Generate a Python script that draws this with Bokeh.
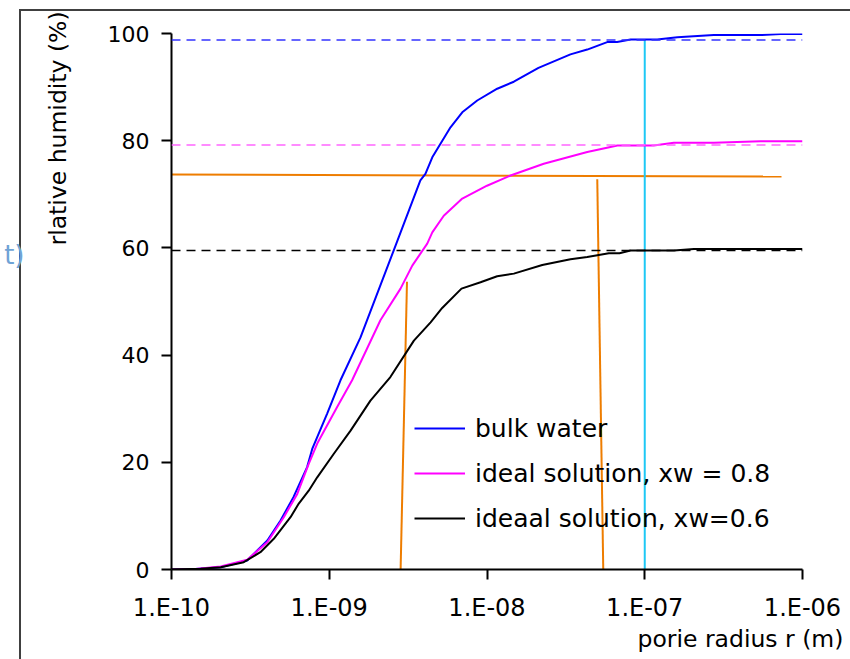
from bokeh.plotting import figure
from bokeh.models import Range1d, FixedTicker, Span, Legend, LegendItem, Title, LinearAxis
from bokeh.embed import file_html
from bokeh.resources import INLINE

# ---- data ----
bulk_r = [1.0e-10, 1.42e-10, 2.05e-10, 3.02e-10, 4.05e-10, 4.91e-10, 5.93e-10, 7.24e-10, 7.80e-10,
          9.70e-10, 1.178e-9, 1.578e-9, 2.56e-9, 3.78e-9, 4.07e-9, 4.50e-9, 5.87e-9, 6.97e-9, 8.67e-9,
          1.161e-8, 1.479e-8, 2.12e-8, 3.38e-8, 4.32e-8, 5.78e-8, 6.68e-8, 8.13e-8, 1.20e-7, 1.61e-7,
          2.74e-7, 5.42e-7, 7.26e-7, 1.0e-6]
bulk_rh = [0, 0.1, 0.43, 1.68, 5.41, 9.14, 13.5, 19.1, 22.5,
           29.1, 35.3, 43.3, 59.5, 72.6, 73.8, 76.9, 82.5, 85.3, 87.5,
           89.7, 91.0, 93.6, 96.1, 97.0, 98.4, 98.4, 98.9, 98.9, 99.3,
           99.7, 99.7, 99.9, 99.9]

ideal08_r = [1.0e-10, 1.42e-10, 2.05e-10, 3.02e-10, 4.05e-10, 5.15e-10, 6.27e-10, 7.41e-10, 8.39e-10,
             1.122e-9, 1.396e-9, 2.11e-9, 2.83e-9, 3.36e-9, 4.18e-9, 4.50e-9, 5.32e-9, 6.97e-9,
             1.00e-8, 1.41e-8, 2.29e-8, 4.32e-8, 6.71e-8, 1.14e-7, 1.53e-7, 2.74e-7, 5.42e-7, 1.0e-6]
ideal08_rh = [0, 0.1, 0.56, 1.81, 5.09, 9.76, 14.1, 19.7, 23.5,
              30.3, 35.3, 46.5, 52.4, 56.7, 60.8, 62.9, 66.0, 69.2,
              71.6, 73.5, 75.7, 77.9, 79.1, 79.1, 79.6, 79.6, 79.9, 79.9]

ideal06_r = [1.0e-10, 1.53e-10, 2.05e-10, 2.87e-10, 3.66e-10, 4.45e-10, 5.68e-10, 6.41e-10, 7.41e-10,
             8.39e-10, 1.069e-9, 1.365e-9, 1.824e-9, 2.44e-9, 3.44e-9, 4.39e-9, 5.20e-9, 6.89e-9,
             9.10e-9, 1.16e-8, 1.48e-8, 2.24e-8, 3.38e-8, 4.32e-8, 5.92e-8, 6.92e-8, 8.13e-8,
             1.53e-7, 2.05e-7, 1.0e-6]
ideal06_rh = [0, 0.13, 0.43, 1.36, 3.23, 5.73, 9.76, 12.3, 14.7,
              17.2, 21.6, 25.9, 31.5, 35.9, 42.7, 46.1, 48.8, 52.4,
              53.6, 54.7, 55.2, 56.8, 57.9, 58.3, 59.0, 59.0, 59.5,
              59.5, 59.8, 59.8]

series_names = ["bulk water", "ideal solution, xw = 0.8", "ideaal solution, xw=0.6"]
series_colors = ["#0000FF", "#FF00FF", "#000000"]

plateau_levels = [98.8, 79.2, 59.5]
plateau_colors = ["#3333FF", "#FF66FF", "#000000"]

# orange construction lines: (x0, y0, x1, y1)
orange_x0 = [8.5e-11, 3.11e-9, 5.0e-8]
orange_y0 = [73.7, 53.7, 72.8]
orange_x1 = [7.36e-7, 2.83e-9, 5.46e-8]
orange_y1 = [73.3, -0.75, -0.5]

cyan_x = [1e-7, 1e-7]
cyan_y = [98.9, 0]

x_ticks = [1e-10, 1e-9, 1e-8, 1e-7, 1e-6]
x_tick_labels = ["1.E-10", "1.E-09", "1.E-08", "1.E-07", "1.E-06"]
y_ticks = [0, 20, 40, 60, 80, 100]

side_text = "t)"
side_text_y = 58.6

FONT = "DejaVu Sans"

p = figure(width=850, height=659, x_axis_type="log",
           x_range=Range1d(1e-10, 1e-6), y_range=Range1d(0, 100),
           output_backend="svg", toolbar_location=None,
           min_border_left=171, min_border_right=48, min_border_top=33, min_border_bottom=90)
p.outline_line_color = None
p.xgrid.visible = False
p.ygrid.visible = False
p.background_fill_color = "white"
p.border_fill_alpha = 0
p.styles = {
    "background": "linear-gradient(#404040, #404040) 19px 9px / 2px 100% no-repeat, "
                  "linear-gradient(#404040, #404040) 19px 9px / 100% 2px no-repeat, white"
}

for ax in (p.xaxis[0], p.yaxis[0]):
    ax.axis_line_color = "black"
    ax.axis_line_width = 2
    ax.major_tick_line_color = "black"
    ax.major_tick_line_width = 2
    ax.major_tick_out = 10
    ax.major_tick_in = 0
    ax.minor_tick_out = 0
    ax.minor_tick_in = 0
    ax.major_label_text_font = FONT
    ax.major_label_text_color = "black"

p.xaxis[0].ticker = FixedTicker(ticks=x_ticks)
p.xaxis[0].major_label_overrides = {t: l for t, l in zip(x_ticks, x_tick_labels)}
p.xaxis[0].major_label_standoff = 14
p.xaxis[0].major_label_text_font_size = "24px"
p.yaxis[0].ticker = FixedTicker(ticks=y_ticks)
p.yaxis[0].major_label_standoff = 12
p.yaxis[0].major_label_text_font_size = "22px"

# dashed plateau lines
for lvl, col in zip(plateau_levels, plateau_colors):
    p.add_layout(Span(location=lvl, dimension="width", line_color=col,
                      line_width=1.5, line_dash="9 6"))

# orange construction lines
p.segment(x0=orange_x0, y0=orange_y0, x1=orange_x1, y1=orange_y1,
          line_color="#EE7D00", line_width=2)

# cyan vertical
p.line(cyan_x, cyan_y, line_color="#1EC8F5", line_width=2)

renderers = []
for xs, ys, col in zip([bulk_r, ideal08_r, ideal06_r], [bulk_rh, ideal08_rh, ideal06_rh], series_colors):
    renderers.append(p.line(xs, ys, line_color=col, line_width=2))

legend = Legend(items=[LegendItem(label=n, renderers=[r]) for n, r in zip(series_names, renderers)],
                location=(243, 36), background_fill_alpha=0, border_line_alpha=0,
                glyph_width=51, glyph_height=30, label_height=30, spacing=15,
                padding=0, margin=0, label_standoff=10,
                label_text_font=FONT, label_text_font_size="25px", label_text_color="black")
p.add_layout(legend)

# axis titles as side titles
p.add_layout(Title(text="rlative humidity (%)", align="left", offset=324, standoff=66,
                   text_font=FONT, text_font_size="23.5px", text_font_style="normal",
                   text_color="black"), "left")
p.add_layout(Title(text="porie radius r (m)", align="left", offset=466, standoff=0,
                   vertical_align="top",
                   text_font=FONT, text_font_size="23.5px", text_font_style="normal",
                   text_color="black"), "below")

# fragment of outside text at the far left, as an extra axis label
side_axis = LinearAxis(ticker=FixedTicker(ticks=[side_text_y]),
                       major_label_overrides={side_text_y: side_text},
                       axis_line_alpha=0, major_tick_out=0, major_tick_in=0,
                       minor_tick_out=0, minor_tick_in=0, major_label_standoff=-16,
                       major_label_text_font=FONT, major_label_text_font_size="26px",
                       major_label_text_color="#6FA3D6")
p.add_layout(side_axis, "left")

open("out.html", "w").write(file_html(p, INLINE))
